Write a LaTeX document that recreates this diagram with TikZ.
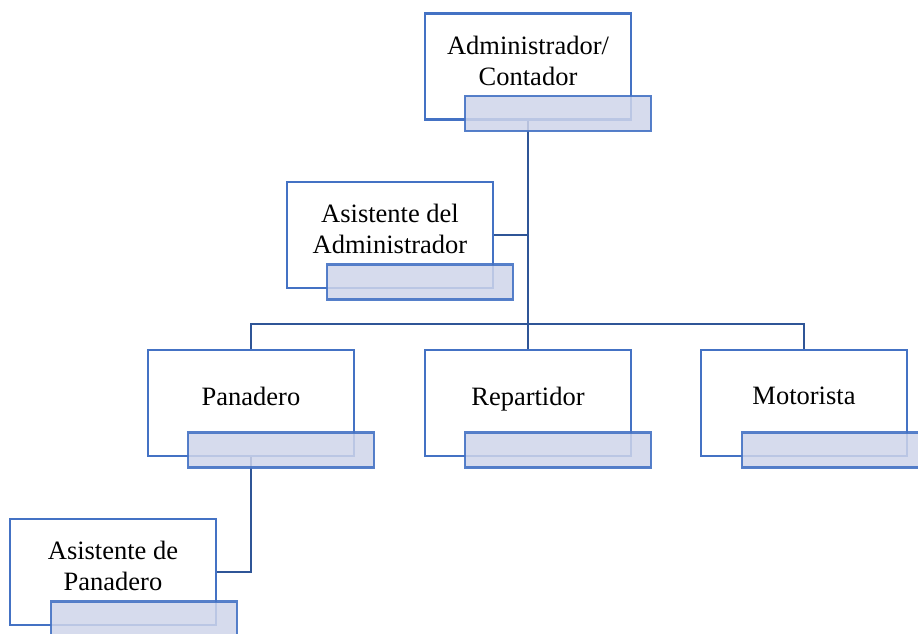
\documentclass[tikz,border=0pt]{standalone}
\usepackage{fontspec}
\setmainfont{Liberation Serif}
\usepackage{tikz}
\usetikzlibrary{calc}

\definecolor{borde}{RGB}{68,114,196}
\definecolor{conector}{RGB}{47,85,151}
\definecolor{relleno}{RGB}{207,213,234}

\tikzset{
  cargo/.style={draw=borde,line width=2.6pt,fill=white,minimum width=206pt,minimum height=106pt,inner sep=0pt},
  barra/.style={draw=borde,draw opacity=0.9,line width=2.6pt,fill=relleno,fill opacity=0.85,minimum width=186pt,minimum height=35pt,inner sep=0pt},
  etiqueta/.style={align=center,font=\fontsize{26.5}{31}\selectfont},
  linea/.style={draw=conector,line width=2pt}
}

\begin{document}
\begin{tikzpicture}[x=1pt,y=-1pt]
\useasboundingbox (0,0) rectangle (918,634);
% cajas
\node[cargo] (admin) at (528,66.5) {};
\node[cargo] (asisadmin) at (390,235) {};
\node[cargo] (panadero) at (251,403) {};
\node[cargo] (repartidor) at (528,403) {};
\node[cargo] (motorista) at (804,403) {};
\node[cargo] (asispan) at (113,572) {};
% textos
\node[etiqueta] (tadmin) at (528,61) {Administrador/\\Contador};
\node[etiqueta] (tasisadmin) at (390,229) {Asistente del\\Administrador};
\node[etiqueta,anchor=base] (tpanadero) at (251,405) {Panadero};
\node[etiqueta,anchor=base] (trepartidor) at (528,405) {Repartidor};
\node[etiqueta,anchor=base] (tmotorista) at (804,404) {Motorista};
\node[etiqueta] (tasispan) at (113,566) {Asistente de\\Panadero};
% conectores
\coordinate (bus) at (528,324);
\draw[linea] (admin.south) -- (bus);
\draw[linea] (asisadmin.east) -- (asisadmin.east -| admin.south);
\draw[linea] (panadero.north) |- (bus) -| (motorista.north);
\draw[linea] (bus) -- (repartidor.north);
\draw[linea] (panadero.south) |- (asispan.east);
% barras
\node[barra] (badmin) at ($(admin)+(30,47)$) {};
\node[barra] (basisadmin) at ($(asisadmin)+(30,47)$) {};
\node[barra] (bpanadero) at ($(panadero)+(30,47)$) {};
\node[barra] (brepartidor) at ($(repartidor)+(30,47)$) {};
\node[barra] (bmotorista) at ($(motorista)+(31,47)$) {};
\node[barra] (basispan) at ($(asispan)+(31,47)$) {};
\end{tikzpicture}
\end{document}
